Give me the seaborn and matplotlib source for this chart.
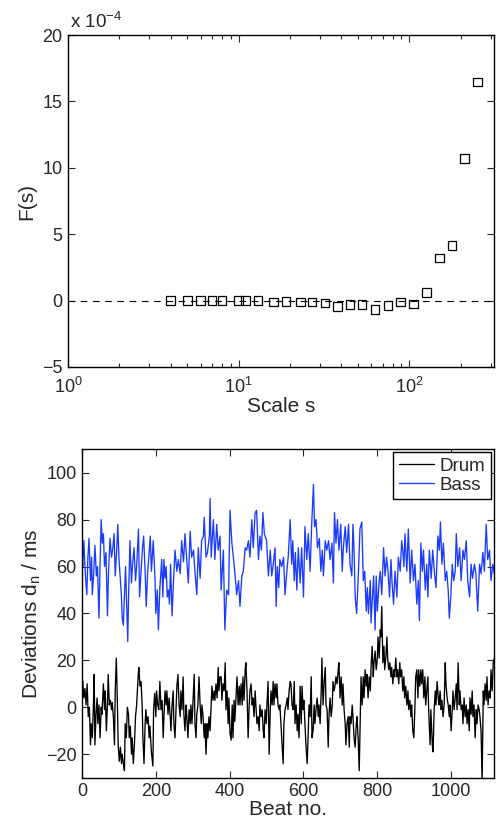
import matplotlib
matplotlib.use("Agg")
import matplotlib.pyplot as plt
import seaborn as sns

# --- top panel: fluctuation function, values in units of 1e-4
scale_s = [4, 5, 6, 7, 8, 10, 11, 13, 16, 19, 23, 27, 32, 38, 45, 53, 63, 75, 89, 106,
           126, 150, 178, 211, 251]
f_s = [0, 0, 0, 0, 0, 0, 0, 0, -0.1, -0.05, -0.1, -0.1, -0.18, -0.43, -0.3, -0.3, -0.68,
       -0.38, -0.1, -0.25, 0.6, 3.22, 4.15, 10.7, 16.46]

# --- bottom panel: timing deviations (ms)
bass_beat = [0, 2, 5, 9, 13, 16, 19, 23, 26, 28, 32, 35, 39, 42, 46, 49, 52, 55, 58, 61,
             65, 69, 72, 76, 80, 83, 87, 90, 94, 97, 100, 104, 107, 109, 112, 115, 118, 121, 124, 126,
             130, 134, 137, 141, 145, 148, 153, 156, 160, 164, 167, 171, 174, 178, 182, 185, 188, 193, 198, 200,
             204, 207, 211, 216, 219, 222, 225, 228, 231, 234, 237, 240, 244, 248, 252, 257, 261, 266, 270, 275,
             279, 284, 288, 293, 297, 302, 306, 311, 315, 320, 324, 329, 331, 336, 340, 345, 347, 350, 356, 360,
             365, 369, 374, 377, 383, 387, 392, 397, 401, 406, 410, 415, 419, 424, 428, 433, 437, 442, 446, 451,
             455, 460, 464, 469, 473, 478, 482, 486, 490, 494, 500, 505, 510, 514, 518, 523, 526, 529, 533, 536,
             541, 546, 550, 555, 559, 564, 568, 571, 575, 578, 582, 586, 591, 595, 600, 604, 609, 613, 618, 622,
             627, 630, 634, 638, 643, 647, 651, 654, 659, 663, 668, 672, 677, 681, 684, 688, 692, 696, 701, 705,
             708, 713, 717, 722, 726, 731, 734, 737, 740, 744, 749, 753, 758, 762, 766, 770, 773, 776, 781, 783,
             787, 790, 794, 797, 800, 805, 808, 812, 817, 821, 825, 829, 833, 837, 840, 844, 848, 853, 857, 862,
             866, 869, 872, 875, 880, 884, 889, 893, 898, 902, 907, 911, 914, 918, 922, 925, 930, 934, 937, 941,
             946, 950, 955, 959, 964, 968, 971, 975, 979, 984, 988, 992, 995, 999, 1003, 1007, 1011, 1014, 1018, 1023,
             1027, 1032, 1036, 1041, 1045, 1050, 1054, 1058, 1063, 1067, 1072, 1077, 1081, 1086, 1090, 1095, 1099, 1104, 1108, 1113,
             1117]
bass_dev = [64, 60, 71, 57, 48, 64, 72, 54, 64, 48, 58, 69, 56, 60, 38, 61, 80, 70, 74, 60,
            66, 39, 58, 72, 64, 67, 74, 56, 67, 78, 64, 54, 47, 38, 35, 47, 60, 44, 28, 46,
            71, 53, 61, 68, 54, 60, 76, 47, 58, 68, 73, 58, 43, 58, 66, 73, 58, 71, 54, 40,
            50, 33, 51, 63, 47, 63, 55, 60, 47, 50, 44, 61, 39, 54, 67, 58, 63, 57, 71, 62,
            74, 62, 53, 75, 64, 67, 58, 48, 68, 55, 71, 73, 81, 64, 66, 73, 89, 64, 80, 63,
            78, 67, 73, 50, 67, 33, 50, 48, 84, 70, 64, 56, 48, 54, 43, 56, 58, 68, 67, 71,
            64, 80, 68, 83, 84, 63, 73, 67, 83, 74, 71, 56, 67, 56, 61, 68, 43, 60, 51, 63,
            60, 64, 48, 58, 65, 80, 61, 71, 54, 66, 50, 68, 53, 68, 47, 77, 63, 74, 58, 77,
            95, 77, 80, 68, 72, 58, 67, 56, 71, 67, 71, 63, 70, 53, 83, 70, 80, 67, 78, 58,
            68, 77, 66, 78, 61, 56, 78, 67, 47, 40, 58, 76, 79, 54, 58, 41, 51, 40, 54, 36,
            47, 56, 33, 56, 41, 54, 58, 48, 68, 56, 64, 58, 47, 63, 53, 44, 58, 47, 64, 58,
            71, 67, 60, 74, 58, 76, 53, 67, 54, 61, 44, 54, 37, 70, 58, 67, 50, 61, 47, 67,
            55, 67, 57, 51, 73, 67, 79, 61, 70, 54, 58, 50, 38, 47, 61, 54, 58, 74, 60, 68,
            54, 67, 63, 71, 54, 47, 61, 55, 61, 57, 41, 61, 57, 66, 58, 78, 63, 67, 54, 61,
            57]

drum_beat = [0, 2, 5, 8, 11, 14, 17, 20, 23, 25, 28, 31, 33, 35, 38, 41, 43, 46, 49, 52,
             54, 58, 61, 63, 66, 69, 71, 74, 77, 80, 82, 85, 88, 90, 93, 96, 98, 101, 104, 107,
             109, 112, 115, 117, 120, 123, 126, 128, 131, 134, 136, 139, 142, 145, 148, 152, 154, 157, 160, 163,
             165, 168, 171, 173, 176, 179, 182, 184, 188, 192, 194, 197, 200, 202, 205, 208, 211, 214, 217, 220,
             222, 225, 228, 230, 233, 236, 239, 241, 244, 247, 249, 252, 255, 257, 260, 263, 266, 268, 271, 274,
             276, 279, 282, 284, 287, 290, 293, 295, 298, 301, 304, 306, 309, 311, 314, 317, 320, 323, 325, 328,
             331, 333, 336, 339, 341, 344, 347, 350, 352, 355, 358, 360, 363, 366, 369, 371, 374, 377, 379, 382,
             385, 388, 390, 393, 396, 398, 401, 404, 407, 409, 412, 414, 417, 420, 423, 426, 428, 431, 434, 436,
             439, 442, 444, 447, 450, 453, 455, 458, 461, 463, 466, 469, 471, 474, 477, 480, 482, 485, 488, 491,
             493, 496, 499, 501, 504, 507, 510, 512, 515, 518, 520, 523, 526, 528, 531, 534, 536, 539, 542, 545,
             547, 550, 553, 556, 558, 561, 564, 566, 569, 572, 575, 577, 580, 583, 585, 588, 591, 594, 596, 599,
             601, 604, 607, 610, 613, 615, 618, 621, 623, 626, 629, 631, 634, 637, 640, 642, 645, 648, 650, 653,
             656, 659, 661, 664, 667, 669, 672, 675, 678, 680, 683, 686, 688, 691, 694, 696, 699, 702, 705, 707,
             710, 713, 715, 718, 721, 724, 726, 729, 732, 734, 737, 740, 743, 745, 748, 751, 753, 756, 759, 762,
             764, 767, 770, 772, 775, 778, 781, 783, 786, 789, 791, 794, 797, 800, 802, 805, 808, 810, 812, 815,
             818, 820, 823, 826, 828, 831, 834, 837, 839, 842, 845, 847, 850, 853, 855, 858, 861, 863, 866, 869,
             872, 874, 877, 880, 883, 885, 888, 891, 893, 896, 899, 902, 904, 907, 910, 912, 915, 918, 920, 923,
             926, 929, 931, 934, 937, 939, 943, 945, 949, 951, 954, 957, 959, 962, 965, 967, 970, 973, 975, 978,
             981, 984, 986, 989, 992, 995, 997, 1000, 1003, 1005, 1008, 1011, 1014, 1016, 1019, 1022, 1024, 1027, 1030, 1032,
             1035, 1038, 1041, 1043, 1046, 1049, 1051, 1054, 1057, 1059, 1062, 1065, 1068, 1070, 1073, 1076, 1078, 1081, 1084, 1087,
             1089, 1092, 1095, 1097, 1100, 1103, 1106, 1108, 1111, 1114, 1117]
drum_dev = [10, 11, 4, 8, 1, 10, -4, 0, -16, -7, -13, 1, 14, -16, -3, 4, -7, 1, -13, 0,
            -3, 10, -1, 7, -10, 1, 14, 1, 3, -1, 2, -4, -16, 7, 21, 1, -16, -23, -17, -24,
            -20, -24, -27, -7, -13, 0, -3, -13, -8, -20, -13, -24, -16, -4, 1, 13, 17, 9, 11, 1,
            -13, -24, -7, -1, -7, -4, -13, -8, -19, -25, -1, 6, -4, 7, 1, -1, 11, -1, 3, -13,
            -4, 7, 1, 7, -3, 4, -4, -10, 1, 7, -7, -13, 1, 9, 14, 1, -4, 7, -1, 13,
            -3, -10, 1, -4, -13, -1, -7, 1, -7, 4, 14, -7, -13, -3, 1, 13, 1, -7, 1, -4,
            -13, -7, -20, -7, -13, -4, -10, 1, 9, 3, 7, 3, 10, 4, 17, 7, 13, 13, 3, 10,
            7, 19, -1, 7, -7, 4, -11, -14, 1, -13, 3, -6, 4, 13, 1, 9, 1, 10, 1, 13,
            3, 16, 19, 7, -13, 1, 7, 10, 1, 4, -4, 7, 1, -7, -4, -10, 1, -4, -1, -10,
            -13, -1, -7, 1, 11, -20, -1, 7, 1, 11, 1, 10, 4, 10, 1, -1, 1, -7, -16, -24,
            -7, -1, 1, 4, -1, 7, 11, 10, 1, -1, 11, -7, 1, -10, -3, -13, 9, -7, 9, -1,
            3, -7, -17, -24, -10, 1, -4, 13, -13, -10, 1, -7, -1, 4, -4, 1, -7, 7, 21, 1,
            11, 17, 1, -1, -17, -4, 4, -4, 1, 11, 7, 10, 13, 10, 16, 19, 4, 13, 1, 10,
            -1, -7, -16, -7, -4, -17, -4, -7, 1, -4, -13, -17, -7, -4, -13, -27, -10, 13, 1, 13,
            4, 16, 9, 14, 4, 13, 7, 17, 26, 13, 19, 24, 16, 21, 30, 21, 33, 30, 43, 19,
            26, 16, 21, 30, 21, 16, 19, 13, 17, 10, 16, 13, 21, 13, 16, 10, 19, 13, 16, 7,
            13, 4, 9, 1, 7, -1, 3, -4, 1, -10, -13, 1, 13, 16, 4, 16, 9, 16, 10, 16,
            4, 13, 1, 7, 13, -1, -16, -1, -16, -19, -1, 7, 1, 11, 4, 1, 7, -1, 3, -4,
            1, 19, 10, 4, 1, -4, 1, -10, -1, 7, -1, 4, 10, -1, 19, 1, 7, -1, 1, -7,
            4, -4, 1, -7, -1, -10, 4, -3, 7, -4, 1, -13, -1, -7, 1, -1, -4, -10, -32, 7,
            1, 10, 3, 13, 1, 7, 4, 16, 7, 19, 21]

sns.set_style("ticks")
plt.rcParams["font.family"] = ["Liberation Sans", "DejaVu Sans"]
plt.rcParams["mathtext.fontset"] = "custom"
plt.rcParams["mathtext.rm"] = "Liberation Sans"
plt.rcParams["mathtext.it"] = "Liberation Sans:italic"
plt.rcParams["axes.linewidth"] = 1.0

fig = plt.figure(figsize=(4.96, 8.26), dpi=100)
ax1 = fig.add_axes([0.1371, 0.5557, 0.8589, 0.4019])
ax2 = fig.add_axes([0.1653, 0.0585, 0.8306, 0.3976])

# top
ax1.axhline(0, color="black", lw=0.8, ls=(0, (6, 5)), zorder=1)
sns.scatterplot(x=scale_s, y=f_s, ax=ax1, marker="s", s=38,
                facecolors="none", edgecolors="black", linewidths=0.9, zorder=3)
ax1.set_xscale("log")
ax1.set_xlim(1, 314)
ax1.set_ylim(-5, 20)
ax1.set_yticks([-5, 0, 5, 10, 15, 20])
ax1.set_xlabel("Scale s", fontsize=15, labelpad=0)
ax1.set_ylabel("F(s)", fontsize=15, labelpad=4)
ax1.text(0.005, 1.008, r"x 10$^{-4}$", transform=ax1.transAxes, fontsize=13.5,
         ha="left", va="bottom")

# bottom
sns.lineplot(x=drum_beat, y=drum_dev, ax=ax2, color="black", lw=0.95, label="Drum")
sns.lineplot(x=bass_beat, y=bass_dev, ax=ax2, color="#1a3aff", lw=0.95, label="Bass")
ax2.set_xlim(0, 1116)
ax2.set_ylim(-30, 110)
ax2.set_xticks([0, 200, 400, 600, 800, 1000])
ax2.set_yticks([-20, 0, 20, 40, 60, 80, 100])
ax2.set_xlabel("Beat no.", fontsize=15, labelpad=0)
ax2.set_ylabel(r"Deviations d$_\mathrm{n}$ / ms", fontsize=15, labelpad=2)
leg = ax2.legend(loc="upper right", fontsize=13.5, frameon=True, fancybox=False,
                 edgecolor="black", framealpha=1, handlelength=1.9,
                 borderpad=0.3, labelspacing=0.1, handletextpad=0.3,
                 borderaxespad=0.15)
leg.get_frame().set_linewidth(1.0)

for ax in (ax1, ax2):
    ax.tick_params(direction="in", which="both", top=True, right=True,
                   labelsize=13, length=5, width=0.8, pad=4)
    ax.tick_params(which="minor", length=3)
    for sp in ax.spines.values():
        sp.set_visible(True)
        sp.set_color("black")
ax1.tick_params(axis="x", which="major", pad=7)

fig.savefig("out.png", dpi=100)
